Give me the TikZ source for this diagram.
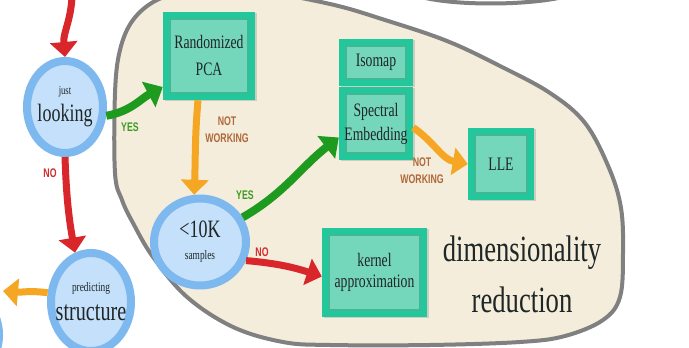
\documentclass[tikz,border=0pt]{standalone}
\usepackage{fontspec}
\setmainfont{Liberation Serif}[FakeStretch=0.72]
\newfontfamily\lblfont{Liberation Sans}[FakeStretch=0.7]
\usetikzlibrary{arrows.meta,shapes.geometric,shadows}

\definecolor{blobfill}{HTML}{F4EDDB}
\definecolor{blobline}{HTML}{808080}
\definecolor{ringblue}{HTML}{7DB8EF}
\definecolor{innerblue}{HTML}{C4E0FA}
\definecolor{tealout}{HTML}{22C79B}
\definecolor{tealin}{HTML}{74D7BC}
\definecolor{tealshade}{HTML}{3FB893}
\definecolor{arrgreen}{HTML}{1E9A1E}
\definecolor{arrorange}{HTML}{F5A623}
\definecolor{arrred}{HTML}{D8262B}
\definecolor{lblgreen}{HTML}{3C9A22}
\definecolor{lblbrown}{HTML}{B0683A}
\definecolor{lblred}{HTML}{D22B2B}
\definecolor{txt}{HTML}{1F2626}

\begin{document}
\begin{tikzpicture}[x=1pt,y=1pt,
  circnode/.style={ellipse, draw=ringblue, line width=8pt, fill=innerblue,
    inner xsep=-25pt, inner ysep=-12pt, align=center, text=txt},
  boxnode/.style={rectangle, fill=tealout, inner sep=0pt, align=center, text=txt,
    font=\fontsize{19}{24}\selectfont,
    drop shadow={shadow xshift=1.5pt, shadow yshift=-1.5pt, opacity=0.3},
    path picture={\fill[tealin, draw=tealshade, line width=1.5pt]
      ([shift={(7pt,7pt)}]path picture bounding box.south west) rectangle
      ([shift={(-7pt,-7pt)}]path picture bounding box.north east);}},
  lbl/.style={font=\lblfont\bfseries\fontsize{12.5}{17}\selectfont, align=center, inner sep=0pt},
  garr/.style={draw=arrgreen, line width=8pt, -{Triangle[length=16pt,width=28pt]}},
  oarr/.style={draw=arrorange, line width=7pt, -{Triangle[length=15pt,width=27pt]}},
  rarr/.style={draw=arrred, line width=7pt, -{Triangle[length=15pt,width=27pt]}}
]
\useasboundingbox (0,0) rectangle (689,348);
\begin{scope}
\clip (0,0) rectangle (689,348);
\fill[white] (0,0) rectangle (689,348);

% top arc of another region
\draw[blobline, line width=4pt] (418,352) .. controls (450,342) and (530,342) .. (567,352);

% dimensionality reduction region
\draw[blobline, line width=4pt, fill=blobfill] plot[smooth cycle, tension=0.6] coordinates {
  (115,255) (115,175) (122,148) (133,125) (153,91) (187,51) (233,21) (283,6)
  (330,3) (430,3) (520,6) (565,12) (603,28) (620,51) (623,95) (621,140)
  (609,180) (585,225) (550,255) (500,282) (447,307) (385,328) (330,344)
  (260,356) (190,356) (157,348) (133,328) (120,298)};

% circles
\node[circnode, minimum width=76pt, minimum height=92pt, font=\fontsize{25}{27}\selectfont] (jl) at (65,241)
  {{\fontsize{12}{14}\selectfont just}\\looking};
\node[circnode, minimum width=80pt, minimum height=98pt, font=\fontsize{28}{29}\selectfont] (ps) at (91,46)
  {{\fontsize{13}{15}\selectfont predicting}\\structure};
\node[circnode, minimum width=92pt, minimum height=87pt, font=\fontsize{25}{22}\selectfont] (tk) at (200,106)
  {\textless10K\\{\fontsize{13}{15}\selectfont samples}};
\node[circnode, minimum width=82pt, minimum height=92pt] (lf) at (-42,13) {};

% boxes
\node[boxnode, minimum width=92pt, minimum height=88pt, font=\fontsize{19}{27}\selectfont] (pca) at (209,292) {Randomized\\PCA};
\node[boxnode, minimum width=74pt, minimum height=47pt] (iso) at (376,285.5) {Isomap};
\node[boxnode, minimum width=74pt, minimum height=73pt] (spec) at (376,224.5) {Spectral\\Embedding};
\node[boxnode, minimum width=66pt, minimum height=72pt] (lle) at (501,184) {LLE};
\node[boxnode, minimum width=105pt, minimum height=89pt, font=\fontsize{19}{21}\selectfont] (kern) at (374.5,75.5) {kernel\\approximation};

% region title
\node[font=\fontsize{37}{51}\selectfont, align=center, text=txt, inner sep=0pt] (dr) at (522,74) {dimensionality\\reduction};

% labels
\node[lbl, text=lblgreen] (yes1) at (130,221) {YES};
\node[lbl, text=lblbrown] (nw1) at (227,218) {NOT\\WORKING};
\node[lbl, text=lblred] (no1) at (50,175) {NO};
\node[lbl, text=lblgreen] (yes2) at (245,153) {YES};
\node[lbl, text=lblred] (no2) at (262,96) {NO};
\node[lbl, text=lblbrown] (nw2) at (422,177) {NOT\\WORKING};

% connectors
\coordinate (topin) at (72,352);
\coordinate (leftend) at (3,57);
\draw[rarr] (topin) to[out=-92,in=95] (jl.north);
\draw[garr] (jl.-12) to[out=10,in=208] ([yshift=-31pt]pca.west);
\draw[oarr] ([xshift=-11pt]pca.south) to[out=-95,in=88] (tk.97);
\draw[garr] (tk.30) to[out=30,in=218] ([yshift=-14pt]spec.west);
\draw[oarr] ([yshift=-4pt]spec.east) to[out=-35,in=170] (lle.west);
\draw[rarr] (tk.-22) to[out=-5,in=162] ([yshift=-4pt]kern.west);
\draw[rarr] (jl.south) to[out=-88,in=100] (ps.108);
\draw[oarr] (ps.168) to[out=172,in=-5] (leftend);
\end{scope}
\end{tikzpicture}
\end{document}
